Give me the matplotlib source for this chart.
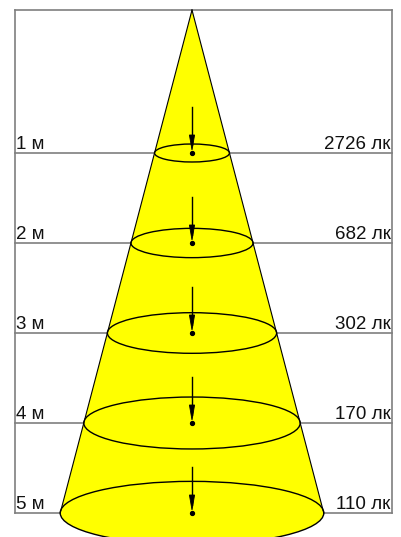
import matplotlib
matplotlib.use("Agg")
import matplotlib.pyplot as plt
from matplotlib.patches import Ellipse, Polygon
import numpy as np

# Data
distances = [1, 2, 3, 4, 5]
lux = [2726, 682, 302, 170, 110]
dist_labels = [f"{d} м" for d in distances]
lux_labels = [f"{v} лк" for v in lux]

# Style / layout (units: metres on the vertical axis, same scale horizontally)
PX = 90.0                      # pixels per metre
apex_d = (10 - 63) / PX        # apex position above the 1 m mark
spread = 0.262                 # half-width per unit of depth
ell_ratio = 0.24               # ellipse height/width
box_left = (14.5 - 192) / PX
box_right = (392.5 - 192) / PX

plt.rcParams['font.family'] = ['Liberation Sans', 'DejaVu Sans']
fig = plt.figure(figsize=(4.02, 5.37), dpi=100)
ax = fig.add_axes([0, 0, 1, 1])
ax.set_xlim(-192 / PX, 210 / PX)
ax.set_ylim((537 - 63) / PX, -63 / PX)
ax.axis('off')

gray = '#7f7f7f'
# Frame
ax.plot([box_left, box_right], [apex_d, apex_d], color=gray, lw=1.2, zorder=1)
ax.plot([box_left, box_left], [apex_d, distances[-1]], color=gray, lw=1.2, zorder=1)
ax.plot([box_right, box_right], [apex_d, distances[-1]], color=gray, lw=1.2, zorder=1)

# Horizontal level lines
for d in distances:
    ax.plot([box_left, box_right], [d, d], color=gray, lw=1.2, zorder=1)

# Cone
hw = [spread * (d - apex_d) for d in distances]
last_d, last_hw = distances[-1], hw[-1]
cone = Polygon([[0, apex_d], [-last_hw, last_d], [last_hw, last_d]], closed=True,
               facecolor='#ffff00', edgecolor='none', zorder=2)
ax.add_patch(cone)
bottom = Ellipse((0, last_d), 2 * last_hw, 2 * last_hw * ell_ratio,
                 facecolor='#ffff00', edgecolor='black', lw=1.0, zorder=2)
ax.add_patch(bottom)
ax.plot([0, -last_hw], [apex_d, last_d], color='black', lw=0.8, zorder=3)
ax.plot([0, last_hw], [apex_d, last_d], color='black', lw=0.8, zorder=3)

for d, w in zip(distances[:-1], hw[:-1]):
    ax.add_patch(Ellipse((0, d), 2 * w, 2 * w * ell_ratio, facecolor='none',
                         edgecolor='black', lw=1.0, zorder=3))

# Arrows
for d in distances:
    ax.plot([0, 0], [d - 46 / PX, d - 8 / PX], color='black', lw=1.0, zorder=4)
    head = Polygon([[-2.6 / PX, d - 18 / PX], [2.6 / PX, d - 18 / PX], [0, d - 3 / PX]],
                   closed=True, facecolor='black', edgecolor='black', lw=0.6, zorder=4)
    ax.add_patch(head)
    ax.plot([0], [d], marker='o', ms=2.8, color='black', zorder=5)

# Labels
for d, lab, lx in zip(distances, dist_labels, lux_labels):
    ax.text((16.5 - 192) / PX, d - 4 / PX, lab, ha='left', va='baseline',
            fontsize=13.5, color='#111111', zorder=6)
    ax.text((390.5 - 192) / PX, d - 4 / PX, lx, ha='right', va='baseline',
            fontsize=13.5, color='#111111', zorder=6)

fig.savefig('out.png', dpi=100)
